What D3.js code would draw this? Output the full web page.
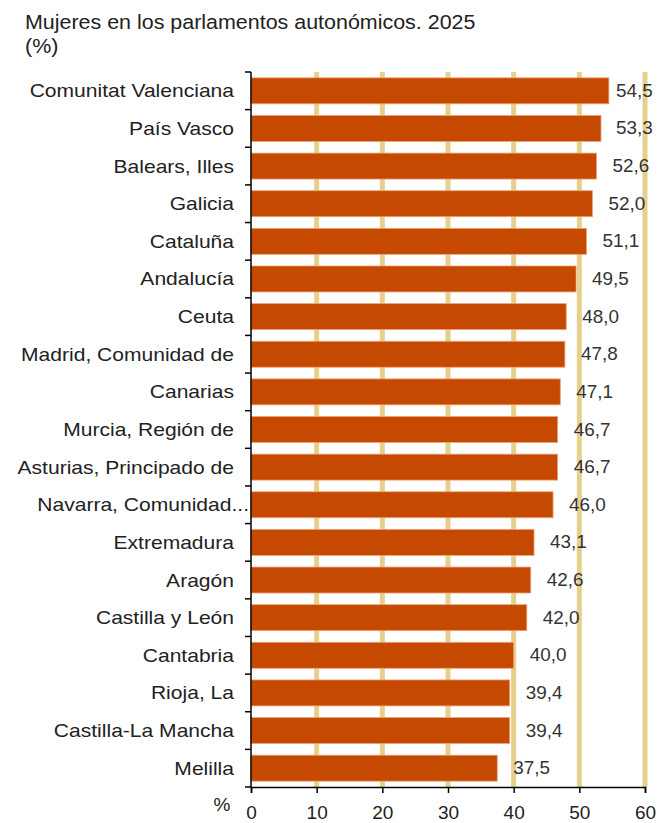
<!DOCTYPE html>
<html><head><meta charset="utf-8">
<script src="https://cdn.jsdelivr.net/npm/d3@7"></script>
<style>
html,body{margin:0;padding:0;background:#fff;}
svg{display:block;font-family:"Liberation Sans",Arial,sans-serif;}
</style></head>
<body>
<svg id="chart" width="659" height="823"></svg>
<script>
const titleLines = ["Mujeres en los parlamentos autonómicos. 2025", "(%)"];
const categories = ["Comunitat Valenciana","País Vasco","Balears, Illes","Galicia","Cataluña","Andalucía","Ceuta","Madrid, Comunidad de","Canarias","Murcia, Región de","Asturias, Principado de","Navarra, Comunidad...","Extremadura","Aragón","Castilla y León","Cantabria","Rioja, La","Castilla-La Mancha","Melilla"];
const values = [54.5,53.3,52.6,52.0,51.1,49.5,48.0,47.8,47.1,46.7,46.7,46.0,43.1,42.6,42.0,40.0,39.4,39.4,37.5];
const xTicks = [0,10,20,30,40,50,60];
const xUnit = "%";

const svg = d3.select("#chart");
const m = {left:251, right:645, top:72, bottom:787};

const x = d3.scaleLinear().domain([0,60]).range([m.left, m.right]);
const y = d3.scaleBand().domain(categories).range([m.top, m.bottom]).paddingInner(0.31).paddingOuter(0.155);
const band = d3.scaleBand().domain(categories).range([m.top, m.bottom]);

// title
svg.selectAll("text.title").data(titleLines).join("text")
  .attr("class","title")
  .attr("transform",(d,i)=>`translate(25,${i===0?29:53}) scale(1.1,1)`)
  .attr("font-size","19.5px").attr("fill","#222").text(d=>d);

// gridlines
svg.append("g").selectAll("line").data(xTicks.filter(t=>t>0)).join("line")
  .attr("x1",d=>x(d)).attr("x2",d=>x(d))
  .attr("y1",m.top).attr("y2",m.bottom)
  .attr("stroke","#e6d08c").attr("stroke-width",5);

// bars
svg.append("g").selectAll("rect").data(values).join("rect")
  .attr("x",x(0)).attr("y",(d,i)=>y(categories[i]))
  .attr("width",d=>x(d)-x(0)).attr("height",y.bandwidth())
  .attr("fill","#c64900").attr("stroke","#eba27a").attr("stroke-width",0.8);

// value labels
svg.append("g").selectAll("text").data(values).join("text")
  .each(function(d,i){
    const w = 37;
    let xs = x(d)+16;
    if (xs + w > 653) xs = 653 - w;
    d3.select(this).attr("transform",`translate(${xs},${y(categories[i])+y.bandwidth()/2+6}) scale(1.08,1)`);
  })
  .attr("font-size","17.5px").attr("fill","#333")
  .text(d=>d.toFixed(1).replace(".",","));

// category labels
svg.append("g").selectAll("text").data(categories).join("text")
  .attr("transform",d=>`translate(${d.endsWith("...")?249:234},${y(d)+y.bandwidth()/2+6.5}) scale(1.17,1)`)
  .attr("text-anchor","end").attr("font-size","18px").attr("fill","#222")
  .text(d=>d);

// y axis
const yAxisG = svg.append("g");
yAxisG.append("line").attr("x1",m.left).attr("x2",m.left).attr("y1",m.top).attr("y2",m.bottom).attr("stroke","#000").attr("stroke-width",1.5);
const bounds = categories.map(c=>band(c)).concat([m.bottom]);
yAxisG.selectAll("line.t").data(bounds).join("line").attr("class","t")
  .attr("x1",m.left-6).attr("x2",m.left).attr("y1",d=>d).attr("y2",d=>d)
  .attr("stroke","#000").attr("stroke-width",1.5);

// x axis
const xAxis = d3.axisBottom(x).tickValues(xTicks).tickSize(6).tickFormat(d3.format("d"));
const xg = svg.append("g").attr("transform",`translate(0,${m.bottom})`).call(xAxis);
xg.select(".domain").attr("stroke","#000").attr("stroke-width",1.5);
xg.selectAll(".tick line").attr("stroke","#000").attr("stroke-width",1.5);
xg.selectAll(".tick text").attr("font-size","19px").attr("fill","#222")
  .attr("font-family","Liberation Sans, Arial, sans-serif").attr("dy",null).attr("y",32);

svg.append("text").attr("x",222).attr("y",811).attr("text-anchor","middle")
  .attr("font-size","19px").attr("fill","#222").text(xUnit);
</script>
</body></html>
